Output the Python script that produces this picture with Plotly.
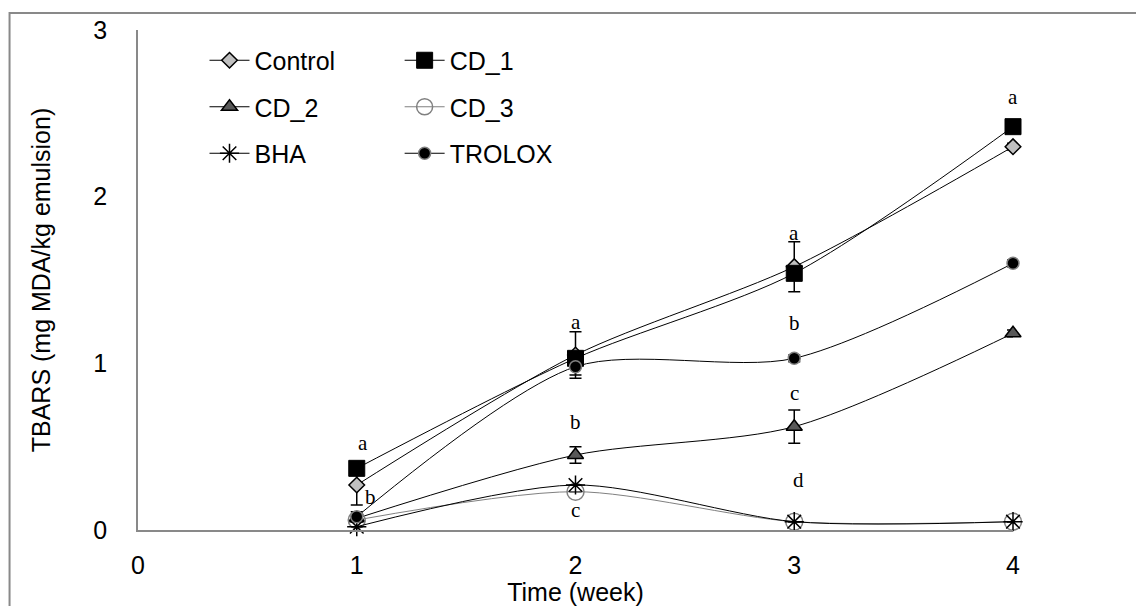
import plotly.graph_objects as go

# TBARS over storage time (mg MDA/kg emulsion)
weeks = [1, 2, 3, 4]
control = [0.27, 1.05, 1.58, 2.30]
cd_1 = [0.37, 1.03, 1.54, 2.42]
cd_2 = [0.07, 0.45, 0.62, 1.18]
cd_3 = [0.06, 0.23, 0.05, 0.05]
bha = [0.02, 0.27, 0.05, 0.05]
trolox = [0.08, 0.98, 1.03, 1.60]

control_err = [0.12, 0.14, 0.15, 0.02]
cd_2_err = [0.02, 0.05, 0.10, 0.02]
trolox_err = [0.03, 0.05, 0.02, 0.02]
zero_err = [0, 0, 0, 0]

# significance letters
letter_text = ["a", "b", "a", "b", "c", "a", "b", "c", "d", "a", "b", "c", "d"]
letter_x = [1.03, 1.065, 2.0, 2.0, 2.0, 3.0, 3.0, 3.0, 3.02, 4.0, 4.02, 4.02, 4.02]
letter_y = [0.52, 0.20, 1.25, 0.65, 0.12, 1.78, 1.24, 0.82, 0.30, 2.60, 1.79, 1.42, 0.34]

FONT = "Liberation Sans, Arial, sans-serif"
SERIF = "Liberation Serif, Times New Roman, serif"
FS = 25

series = [
    # name, values, errors, marker, line color, legend
    ("Control", control, control_err,
     dict(symbol="diamond", size=12, color="#c0c0c0", line=dict(color="black", width=1.5)),
     "black", "legend"),
    ("CD_1", cd_1, zero_err,
     dict(symbol="square", size=16, color="black", line=dict(color="black", width=1)),
     "black", "legend2"),
    ("CD_2", cd_2, cd_2_err,
     dict(symbol="triangle-up", size=14, color="#595959", line=dict(color="black", width=1.5)),
     "black", "legend"),
    ("CD_3", cd_3, zero_err,
     dict(symbol="circle", size=17, color="rgba(255,255,255,0)", line=dict(color="#808080", width=1.5)),
     "#808080", "legend2"),
    ("BHA", bha, zero_err,
     dict(symbol="asterisk-open", size=16, color="black", line=dict(color="black", width=1.5)),
     "black", "legend"),
    ("TROLOX", trolox, trolox_err,
     dict(symbol="circle", size=12, color="black", line=dict(color="#808080", width=1.5)),
     "black", "legend2"),
]

fig = go.Figure()
for name, vals, errs, marker, lcolor, leg in series:
    fig.add_trace(go.Scatter(
        x=weeks, y=vals, name=name, mode="lines+markers",
        line=dict(color=lcolor, width=1, shape="spline", smoothing=0.8),
        marker=marker,
        error_y=dict(type="data", array=errs, visible=True, color="black",
                     thickness=1.5, width=6),
        legend=leg, legendgroup=name, cliponaxis=False,
    ))

for t, x, y in zip(letter_text, letter_x, letter_y):
    fig.add_annotation(x=x, y=y, text=t, showarrow=False,
                       font=dict(family=SERIF, size=21, color="black"))

# outer chart frame
fig.add_shape(type="rect", xref="paper", yref="paper",
              x0=-0.1468, x1=1.16, y0=-0.2, y1=1.034,
              line=dict(color="#898989", width=2), layer="below")

legend_common = dict(
    font=dict(family=FONT, size=FS, color="black"),
    bgcolor="rgba(0,0,0,0)", borderwidth=0,
    orientation="v", tracegroupgap=11, traceorder="grouped",
    xanchor="left", yanchor="top", itemwidth=40,
)

fig.update_layout(
    width=1136, height=606,
    margin=dict(l=137.5, r=122.5, t=30, b=76),
    paper_bgcolor="white", plot_bgcolor="white",
    font=dict(family=FONT, size=FS, color="black"),
    showlegend=True,
    legend=dict(**legend_common, x=0.076, y=0.985),
    legend2=dict(**legend_common, x=0.299, y=0.985),
    xaxis=dict(
        range=[0, 4], tickvals=[0, 1, 2, 3, 4], showgrid=False, zeroline=False,
        showline=True, linecolor="#898989", linewidth=1.5, automargin=False,
        ticks="outside", ticklen=12, tickcolor="rgba(0,0,0,0)",
        tickfont=dict(family=FONT, size=FS, color="black"),
        title=dict(text="Time (week)", standoff=4,
                   font=dict(family=FONT, size=FS, color="black")),
    ),
    yaxis=dict(
        range=[0, 3], tickvals=[0, 1, 2, 3], showgrid=False, zeroline=False,
        showline=True, linecolor="#898989", linewidth=1.5, automargin=False,
        ticks="outside", ticklen=24, tickcolor="rgba(0,0,0,0)",
        tickfont=dict(family=FONT, size=FS, color="black"),
        title=dict(text="TBARS (mg MDA/kg emulsion)", standoff=36,
                   font=dict(family=FONT, size=FS, color="black")),
    ),
)

fig.write_html("out.html")
